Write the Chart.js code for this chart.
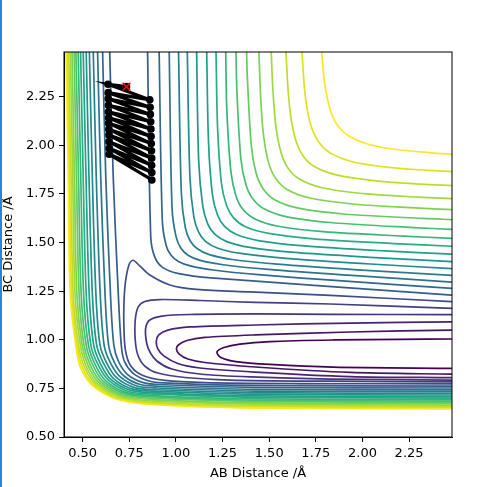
<!DOCTYPE html>
<html>
<head>
<meta charset="utf-8">
<script src="https://cdn.jsdelivr.net/npm/chart.js@4.4.1/dist/chart.umd.min.js"></script>
<style>
  html, body { margin: 0; padding: 0; background: #fff; }
  #wrap { position: relative; width: 484px; height: 487px; }
  #edge { position: absolute; left: 0; top: 0; width: 2px; height: 487px; background: #1f88e5; }
  canvas { display: block; }
</style>
</head>
<body>
<div id="wrap">
  <canvas id="pes" width="484" height="487"></canvas>
  <div id="edge"></div>
</div>
<script>
/** LEPS surface contour plot with one trajectory */

const xTicks = [0.50, 0.75, 1.00, 1.25, 1.50, 1.75, 2.00, 2.25];
const yTicks = [0.50, 0.75, 1.00, 1.25, 1.50, 1.75, 2.00, 2.25];

// contour levels 0 (lowest) .. 21 (highest), viridis
const levelColors = [
  '#440154', '#471365', '#482374', '#46327e', '#424186', '#3d4e8a', '#365c8d', '#31688e',
  '#2c738e', '#277f8e', '#238a8d', '#1f968b', '#1fa088', '#26ad81', '#34b679', '#48c16e',
  '#63cb5f', '#7fd34e', '#9fda3a', '#bfdf25', '#dfe318', '#fde725'
];

// levels 0-5: closed on the BC valley side (open to the right edge)
const valley0 = [[2.48,1.004],[2.202,1.002],[1.843,0.999],[1.504,0.991],[1.343,0.978],[1.257,0.960],[1.220,0.937],[1.241,0.909],[1.322,0.888],[1.504,0.873],[1.843,0.859],[2.48,0.853]];
const valley1 = [[2.48,1.050],[1.934,1.040],[1.424,1.025],[1.155,1.012],[1.059,0.996],[1.013,0.973],[1.003,0.953],[1.016,0.927],[1.064,0.901],[1.155,0.883],[1.424,0.860],[1.934,0.832],[2.48,0.823]];
const valley2 = [[2.48,1.092],[1.934,1.086],[1.424,1.076],[1.075,1.066],[0.957,1.050],[0.908,1.025],[0.895,0.994],[0.903,0.953],[0.935,0.917],[1.010,0.878],[1.129,0.855],[1.424,0.834],[1.934,0.811],[2.48,0.805]];
const valley3 = [[2.48,1.129],[1.827,1.131],[1.424,1.133],[1.075,1.130],[0.925,1.122],[0.860,1.102],[0.839,1.066],[0.839,1.009],[0.855,0.948],[0.898,0.891],[0.978,0.850],[1.129,0.824],[1.397,0.809],[1.827,0.798],[2.48,0.793]];
const valley4 = [[2.48,1.162],[1.827,1.184],[1.424,1.192],[1.129,1.202],[0.914,1.207],[0.833,1.197],[0.798,1.169],[0.782,1.102],[0.782,0.999],[0.796,0.922],[0.833,0.865],[0.903,0.829],[1.048,0.806],[1.290,0.793],[1.827,0.787],[2.48,0.783]];
const valley5 = [[2.48,1.196],[1.827,1.228],[1.397,1.246],[1.111,1.259],[0.968,1.282],[0.860,1.333],[0.806,1.380],[0.770,1.409],[0.750,1.390],[0.731,1.308],[0.722,1.205],[0.721,1.076],[0.729,0.948],[0.758,0.865],[0.823,0.816],[0.941,0.791],[1.155,0.780],[1.665,0.775],[2.48,0.773]];

// levels 6-21, upper right branch (top edge -> right edge)
const arm6  = [[0.848,2.48],[0.865,1.529],[0.887,1.425],[0.930,1.371],[1.016,1.340],[1.188,1.318],[2.48,1.230]];
const arm7  = [[0.910,2.48],[0.927,1.614],[0.948,1.484],[0.975,1.433],[1.013,1.403],[1.077,1.380],[1.200,1.359],[1.442,1.335],[1.872,1.304],[2.48,1.264]];
const arm8  = [[0.964,2.48],[0.979,1.681],[1.001,1.529],[1.028,1.469],[1.065,1.435],[1.130,1.408],[1.253,1.386],[1.495,1.362],[1.924,1.332],[2.48,1.297]];
const arm9  = [[1.014,2.48],[1.029,1.756],[1.050,1.578],[1.077,1.508],[1.115,1.468],[1.179,1.438],[1.302,1.413],[1.544,1.389],[1.974,1.360],[2.48,1.331]];
const arm10 = [[1.061,2.48],[1.075,1.838],[1.096,1.632],[1.123,1.551],[1.160,1.505],[1.225,1.471],[1.348,1.444],[1.590,1.419],[2.019,1.391],[2.48,1.366]];
const arm11 = [[1.111,2.48],[1.122,1.922],[1.144,1.687],[1.171,1.595],[1.208,1.543],[1.273,1.505],[1.396,1.475],[1.638,1.449],[2.067,1.423],[2.48,1.402]];
const arm12 = [[1.165,2.48],[1.175,2.009],[1.196,1.744],[1.223,1.642],[1.261,1.583],[1.325,1.541],[1.449,1.509],[1.690,1.483],[2.120,1.457],[2.48,1.440]];
const arm13 = [[1.215,2.48],[1.223,2.098],[1.244,1.805],[1.271,1.692],[1.309,1.627],[1.373,1.581],[1.497,1.547],[1.738,1.519],[2.168,1.495],[2.48,1.481]];
const arm14 = [[1.267,2.48],[1.273,2.182],[1.295,1.863],[1.322,1.740],[1.359,1.671],[1.424,1.621],[1.547,1.584],[1.789,1.556],[2.218,1.533],[2.48,1.522]];
const arm15 = [[1.322,2.48],[1.327,2.277],[1.348,1.932],[1.375,1.799],[1.413,1.724],[1.477,1.671],[1.601,1.631],[1.842,1.602],[2.272,1.577],[2.48,1.568]];
const arm16 = [[1.379,2.48],[1.382,2.369],[1.404,1.999],[1.430,1.856],[1.468,1.776],[1.532,1.719],[1.656,1.677],[1.898,1.647],[2.327,1.624],[2.48,1.618]];
const arm17 = [[1.445,2.48],[1.454,2.253],[1.467,2.073],[1.494,1.920],[1.532,1.834],[1.596,1.773],[1.719,1.729],[1.961,1.697],[2.283,1.678],[2.48,1.669]];
const arm18 = [[1.511,2.48],[1.520,2.283],[1.536,2.097],[1.563,1.964],[1.600,1.884],[1.659,1.828],[1.783,1.782],[2.024,1.750],[2.293,1.734],[2.48,1.726]];
const arm19 = [[1.590,2.48],[1.601,2.289],[1.617,2.139],[1.644,2.021],[1.681,1.947],[1.740,1.892],[1.858,1.848],[2.073,1.817],[2.315,1.800],[2.48,1.793]];
const arm20 = [[1.676,2.48],[1.688,2.307],[1.704,2.184],[1.731,2.081],[1.769,2.012],[1.828,1.960],[1.940,1.917],[2.128,1.888],[2.343,1.872],[2.48,1.865]];
const arm21 = [[1.782,2.48],[1.793,2.352],[1.810,2.249],[1.836,2.157],[1.874,2.093],[1.933,2.044],[2.040,2.003],[2.201,1.976],[2.389,1.960],[2.48,1.954]];

// levels 6-21, repulsive wall branch (top edge -> lower left corner -> right edge)
const wall6  = [[0.645,2.48],[0.664,1.835],[0.691,1.236],[0.707,0.973],[0.723,0.891],[0.769,0.829],[0.839,0.793],[0.903,0.780],[1.424,0.765],[2.48,0.762]];
const wall7  = [[0.607,2.48],[0.624,1.835],[0.649,1.236],[0.667,0.973],[0.693,0.887],[0.741,0.821],[0.820,0.781],[0.903,0.770],[1.424,0.755],[2.48,0.752]];
const wall8  = [[0.580,2.48],[0.597,1.835],[0.620,1.236],[0.639,0.973],[0.670,0.884],[0.720,0.815],[0.805,0.771],[0.903,0.761],[1.424,0.745],[2.48,0.742]];
const wall9  = [[0.557,2.48],[0.573,1.835],[0.594,1.236],[0.615,0.973],[0.649,0.881],[0.700,0.810],[0.792,0.762],[0.903,0.752],[1.424,0.736],[2.48,0.733]];
const wall10 = [[0.536,2.48],[0.552,1.835],[0.571,1.236],[0.593,0.973],[0.630,0.879],[0.682,0.805],[0.779,0.754],[0.903,0.743],[1.424,0.728],[2.48,0.724]];
const wall11 = [[0.519,2.48],[0.534,1.835],[0.552,1.236],[0.575,0.973],[0.613,0.877],[0.666,0.800],[0.769,0.746],[0.903,0.735],[1.424,0.720],[2.48,0.716]];
const wall12 = [[0.503,2.48],[0.518,1.835],[0.535,1.236],[0.559,0.973],[0.597,0.874],[0.651,0.796],[0.758,0.740],[0.903,0.727],[1.424,0.711],[2.48,0.708]];
const wall13 = [[0.489,2.48],[0.503,1.835],[0.519,1.236],[0.544,0.973],[0.582,0.873],[0.638,0.792],[0.749,0.733],[0.903,0.720],[1.424,0.704],[2.48,0.700]];
const wall14 = [[0.476,2.48],[0.490,1.835],[0.505,1.236],[0.531,0.973],[0.568,0.871],[0.624,0.789],[0.740,0.727],[0.903,0.712],[1.424,0.696],[2.48,0.692]];
const wall15 = [[0.464,2.48],[0.478,1.835],[0.492,1.236],[0.519,0.973],[0.555,0.869],[0.612,0.785],[0.732,0.722],[0.903,0.705],[1.424,0.689],[2.48,0.685]];
const wall16 = [[0.454,2.48],[0.467,1.835],[0.481,1.236],[0.507,0.973],[0.542,0.867],[0.600,0.782],[0.724,0.716],[0.903,0.698],[1.424,0.683],[2.48,0.678]];
const wall17 = [[0.443,2.48],[0.456,1.835],[0.469,1.236],[0.497,0.973],[0.530,0.866],[0.589,0.779],[0.716,0.711],[0.903,0.691],[1.424,0.675],[2.48,0.671]];
const wall18 = [[0.434,2.48],[0.447,1.835],[0.459,1.236],[0.488,0.973],[0.519,0.864],[0.578,0.776],[0.709,0.706],[0.903,0.684],[1.424,0.669],[2.48,0.664]];
const wall19 = [[0.425,2.48],[0.438,1.835],[0.449,1.236],[0.478,0.973],[0.508,0.863],[0.568,0.773],[0.701,0.702],[0.903,0.677],[1.424,0.662],[2.48,0.657]];
const wall20 = [[0.418,2.48],[0.430,1.835],[0.441,1.236],[0.470,0.973],[0.497,0.861],[0.558,0.770],[0.695,0.697],[0.903,0.671],[1.424,0.656],[2.48,0.651]];
const wall21 = [[0.411,2.48],[0.423,1.835],[0.433,1.236],[0.463,0.973],[0.487,0.860],[0.549,0.768],[0.688,0.693],[0.903,0.665],[1.424,0.649],[2.48,0.644]];

// trajectory turning points (AB, BC) and its start marker
const trajX = [0.735, 0.636, 0.860, 0.637, 0.862, 0.637, 0.863, 0.638, 0.865, 0.638, 0.866, 0.639, 0.867,
               0.639, 0.868, 0.640, 0.869, 0.641, 0.870, 0.641, 0.870, 0.642, 0.871, 0.642, 0.871];
const trajY = [2.302, 2.314, 2.234, 2.271, 2.196, 2.239, 2.159, 2.206, 2.121, 2.173, 2.084, 2.142, 2.046,
               2.114, 2.009, 2.083, 1.972, 2.053, 1.934, 2.019, 1.897, 1.985, 1.860, 1.954, 1.822];
const startPoint = [0.735, 2.302];

const contourPaths = [
  [0, valley0], [1, valley1], [2, valley2], [3, valley3], [4, valley4], [5, valley5],
  [6, arm6], [7, arm7], [8, arm8], [9, arm9], [10, arm10], [11, arm11], [12, arm12], [13, arm13],
  [14, arm14], [15, arm15], [16, arm16], [17, arm17], [18, arm18], [19, arm19], [20, arm20], [21, arm21],
  [6, wall6], [7, wall7], [8, wall8], [9, wall9], [10, wall10], [11, wall11], [12, wall12], [13, wall13],
  [14, wall14], [15, wall15], [16, wall16], [17, wall17], [18, wall18], [19, wall19], [20, wall20], [21, wall21]
];

const FONT = { family: "'DejaVu Sans', sans-serif", size: 13 };

const datasets = [
  {
    label: 'start',
    data: [{ x: startPoint[0], y: startPoint[1] }],
    showLine: false,
    pointStyle: 'crossRot',
    pointRadius: 5.5,
    borderColor: '#ff0000',
    pointBorderWidth: 1.6,
    order: 0
  },
  {
    label: 'trajectory',
    data: trajX.map((x, i) => ({ x, y: trajY[i] })),
    showLine: true,
    borderColor: '#000',
    backgroundColor: '#000',
    borderWidth: 3.2,
    pointRadius: 2.2,
    tension: 0,
    order: 1
  }
];

contourPaths.forEach(([lvl, path]) => {
  datasets.push({
    label: 'level ' + lvl,
    data: path.map(([x, y]) => ({ x, y })),
    showLine: true,
    borderColor: levelColors[lvl],
    borderWidth: 1.7,
    pointRadius: 0,
    tension: 0.3,
    fill: false,
    order: 2
  });
});

const frame = {
  id: 'frame',
  afterDatasetsDraw(chart) {
    const { ctx, chartArea: a } = chart;
    ctx.save();
    ctx.strokeStyle = '#000';
    ctx.lineWidth = 1;
    ctx.strokeRect(a.left, a.top, a.right - a.left, a.bottom - a.top);
    ctx.restore();
  }
};

function axis(min, max, ticks, title) {
  return {
    type: 'linear',
    min,
    max,
    afterBuildTicks: (s) => { s.ticks = ticks.map((v) => ({ value: v })); },
    ticks: { callback: (v) => Number(v).toFixed(2), color: '#000', font: FONT, padding: 4, autoSkip: false, maxRotation: 0 },
    grid: { display: true, drawOnChartArea: false, drawTicks: true, tickLength: 5, color: '#000', tickWidth: 1 },
    border: { display: true, color: '#000', width: 1 },
    title: { display: true, text: title, color: '#000', font: FONT, padding: { top: 0, bottom: 6 } }
  };
}

const xAxis = axis(0.40, 2.48, xTicks, 'AB Distance /Å');
xAxis.afterFit = (s) => { s.height = 50; };
const yAxis = axis(0.50, 2.48, yTicks, 'BC Distance /Å');
yAxis.afterFit = (s) => { s.width = 64; };
yAxis.title.padding = { top: 1, bottom: 0 };

new Chart(document.getElementById('pes').getContext('2d'), {
  type: 'scatter',
  data: { datasets },
  options: {
    responsive: false,
    animation: false,
    events: [],
    layout: { padding: { left: 0, top: 52, right: 32, bottom: 0 } },
    plugins: { legend: { display: false }, tooltip: { enabled: false } },
    scales: { x: xAxis, y: yAxis }
  },
  plugins: [frame]
});
</script>
</body>
</html>
